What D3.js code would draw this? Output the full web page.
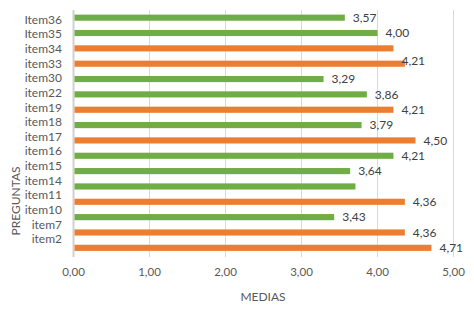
<!DOCTYPE html>
<html>
<head>
<meta charset="utf-8">
<script src="https://cdn.jsdelivr.net/npm/d3@7"></script>
<style>
  body { margin: 0; background: #fff; }
  text { font-family: Lato, "Liberation Sans", sans-serif; }
</style>
</head>
<body>
<div class="chart"></div>
<script>
// categories top to bottom
const items = ["Item36","Item35","item34","item33","item30","item22","item19","item18",
               "item17","item16","item15","item14","item11","item10","item7","item2"];
const medias = [3.57, 4.00, 4.21, 4.36, 3.29, 3.86, 4.21, 3.79,
                4.50, 4.21, 3.64, 3.71, 4.36, 3.43, 4.36, 4.71];
// data labels as shown (null = no label)
const etiquetas = [3.57, 4.00, null, 4.21, 3.29, 3.86, 4.21, 3.79,
                   4.50, 4.21, 3.64, null, 4.36, 3.43, 4.36, 4.71];
const grupo = ["v","v","n","n","v","v","n","v","n","v","v","v","n","v","n","n"];
const ticks = [0, 1, 2, 3, 4, 5];

const colores = { v: "#70AD47", n: "#ED7D31" };
const fmt = d3.formatLocale({ decimal: ",", thousands: ".", grouping: [3], currency: ["", "€"] }).format(".2f");

var width = 474, height = 309;

var svg = d3.select('div.chart').append('svg')
    .attr('width', width)
    .attr('height', height);

var x = d3.scaleLinear().domain([0, 5]).range([73.5, 453.5]);
var y = d3.scaleBand().domain(items).range([10, 255.5]).paddingInner(0.6).paddingOuter(0.3);
var yLab = d3.scalePoint().domain(items).range([19.5, 239]);

// gridlines
svg.append('g')
    .selectAll('line')
    .data(ticks)
    .enter()
    .append('line')
        .attr('x1', d => x(d))
        .attr('x2', d => x(d))
        .attr('y1', 10)
        .attr('y2', 257)
        .attr('stroke', d => d === 0 ? '#d0d0d0' : '#d9d9d9')
        .attr('stroke-width', d => d === 0 ? 2 : 1);

// x tick labels
svg.append('g')
    .selectAll('text')
    .data(ticks)
    .enter()
    .append('text')
        .attr('x', d => x(d))
        .attr('y', 276)
        .attr('text-anchor', 'middle')
        .attr('font-size', 11.5)
        .attr('fill', '#595959')
        .text(d => fmt(d));

// category labels
svg.append('g')
    .selectAll('text')
    .data(items)
    .enter()
    .append('text')
        .attr('x', 62)
        .attr('y', d => yLab(d))
        .attr('dy', '0.35em')
        .attr('text-anchor', 'end')
        .attr('font-size', 12)
        .attr('fill', '#595959')
        .text(d => d);

// bars
svg.append('g')
    .selectAll('rect')
    .data(items)
    .enter()
    .append('rect')
        .attr('x', x(0) + 1)
        .attr('y', d => y(d))
        .attr('width', (d, i) => x(medias[i]) - x(0) - 1)
        .attr('height', y.bandwidth())
        .attr('fill', (d, i) => colores[grupo[i]]);

// data labels
svg.append('g')
    .selectAll('text')
    .data(items.filter((d, i) => etiquetas[i] !== null))
    .enter()
    .append('text')
        .attr('x', d => x(etiquetas[items.indexOf(d)]) + 8)
        .attr('y', d => y(d) + y.bandwidth() / 2 + (d === "item33" ? -3 : 0))
        .attr('dy', '0.35em')
        .attr('font-size', 12)
        .attr('fill', '#404040')
        .text(d => fmt(etiquetas[items.indexOf(d)]));

// axis titles
svg.append('text')
    .attr('x', 263)
    .attr('y', 301)
    .attr('text-anchor', 'middle')
    .attr('font-size', 12)
    .attr('fill', '#595959')
    .text('MEDIAS');

svg.append('text')
    .attr('transform', 'translate(20,201) rotate(-90)')
    .attr('text-anchor', 'middle')
    .attr('font-size', 12)
    .attr('fill', '#595959')
    .text('PREGUNTAS');
</script>
</body>
</html>
